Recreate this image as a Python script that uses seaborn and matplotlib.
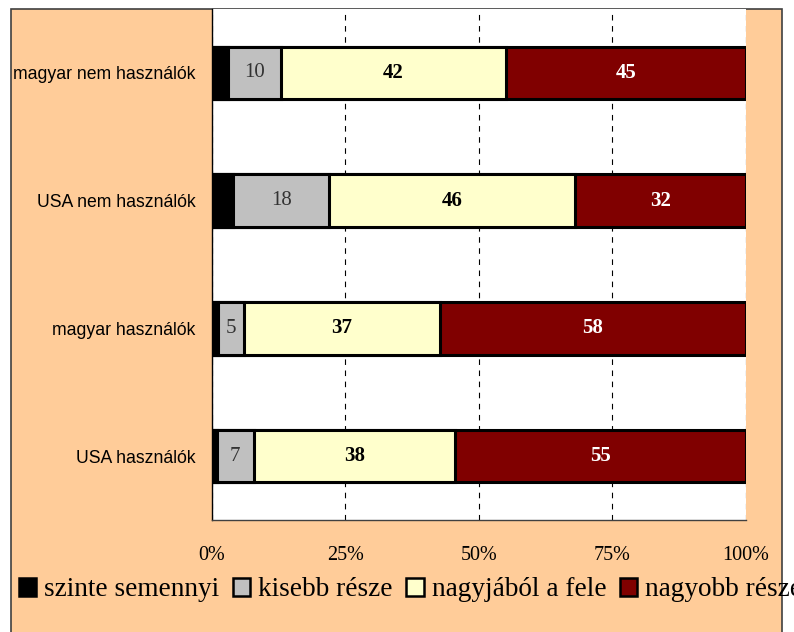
import numpy as np
import pandas as pd
import matplotlib
matplotlib.use("Agg")
import matplotlib.pyplot as plt
from matplotlib.patches import Rectangle, Patch
import seaborn as sns

# Data (percent shares)
groups = ["magyar nem használók", "USA nem használók", "magyar használók", "USA használók"]
series = ["szinte semennyi", "kisebb része", "nagyjából a fele", "nagyobb része"]
semennyi = [3, 4, 1.1, 0.9]
kisebb = [10, 18, 5, 7]
fele = [42, 46, 37, 38]
nagyobb = [45, 32, 58, 55]
xticks = [0, 25, 50, 75, 100]

colors = ["#000000", "#C0C0C0", "#FFFFCC", "#800000"]
label_colors = [None, "#333333", "#000000", "#FFFFFF"]
label_weights = [None, "normal", "bold", "bold"]

df = pd.DataFrame({"group": groups, series[0]: semennyi, series[1]: kisebb,
                   series[2]: fele, series[3]: nagyobb})
vals = df[series]
pct = vals.div(vals.sum(axis=1), axis=0) * 100
cum = pct.cumsum(axis=1)

sns.set_style("white")
plt.rcParams["font.family"] = ["Liberation Serif", "DejaVu Serif"]
plt.rcParams["text.color"] = "black"
plt.rcParams["xtick.color"] = "black"
plt.rcParams["ytick.color"] = "black"

fig = plt.figure(figsize=(7.94, 6.32), dpi=100)
fig.patch.set_facecolor("white")
# chart area background
bg = Rectangle((11 / 794, -0.1), 771 / 794, 1.1 - 9 / 632,
               transform=fig.transFigure, facecolor="#FFCC99",
               edgecolor="#404040", linewidth=1.2, zorder=-10)
fig.add_artist(bg)

ax = fig.add_axes([212 / 794, 1 - 520 / 632, 534 / 794, 511 / 632])
ax.set_facecolor("white")
ax.set_axisbelow(True)

# stacked bars: draw cumulative totals from the outermost inward
for i in range(len(series) - 1, -1, -1):
    sns.barplot(x=cum[series[i]], y=df["group"], orient="h", color=colors[i],
                edgecolor="black", linewidth=2.2, width=0.41, ax=ax,
                saturation=1)

# value labels
for i in range(1, len(series)):
    for j in range(len(groups)):
        left = cum[series[i]].iloc[j] - pct[series[i]].iloc[j]
        xc = left + pct[series[i]].iloc[j] / 2
        ax.text(xc, j, f"{int(round(vals[series[i]].iloc[j]))}", ha="center", va="center",
                fontsize=15, color=label_colors[i], fontweight=label_weights[i])

ax.set_xlim(0, 100)
ax.set_ylim(3.5, -0.5)
ax.set_xticks(xticks)
ax.set_xticklabels([f"{t}%" for t in xticks], fontsize=14.5)
ax.xaxis.grid(True, color="black", linestyle=(0, (5, 5)), linewidth=0.8)
ax.set_xlabel("")
ax.set_ylabel("")
ax.set_yticks(range(len(groups)))
ax.set_yticklabels(groups, fontsize=12.7, family=["Liberation Sans", "DejaVu Sans"])
ax.set_yticks(np.arange(-0.5, 4, 1), minor=True)
ax.tick_params(axis="y", which="major", length=0, pad=12)
ax.tick_params(axis="y", which="minor", length=6, width=1, color="black", direction="out")
ax.tick_params(axis="x", length=6, width=1, color="black", direction="out", pad=13)
for s in ["top", "right"]:
    ax.spines[s].set_visible(False)
ax.spines["left"].set_color("black")
ax.spines["bottom"].set_color("#404040")
ax.spines["left"].set_linewidth(1)
ax.spines["bottom"].set_linewidth(1)

handles = [Patch(facecolor=c, edgecolor="black", linewidth=1.8) for c in colors]
fig.legend(handles, series, loc="center left", bbox_to_anchor=(19 / 794, 1 - 590 / 632),
           ncol=4, frameon=False, fontsize=19.6, handlelength=0.63, handleheight=0.63,
           handletextpad=0.3, columnspacing=0.5, borderaxespad=0, borderpad=0)

fig.savefig("out.png", dpi=100)
